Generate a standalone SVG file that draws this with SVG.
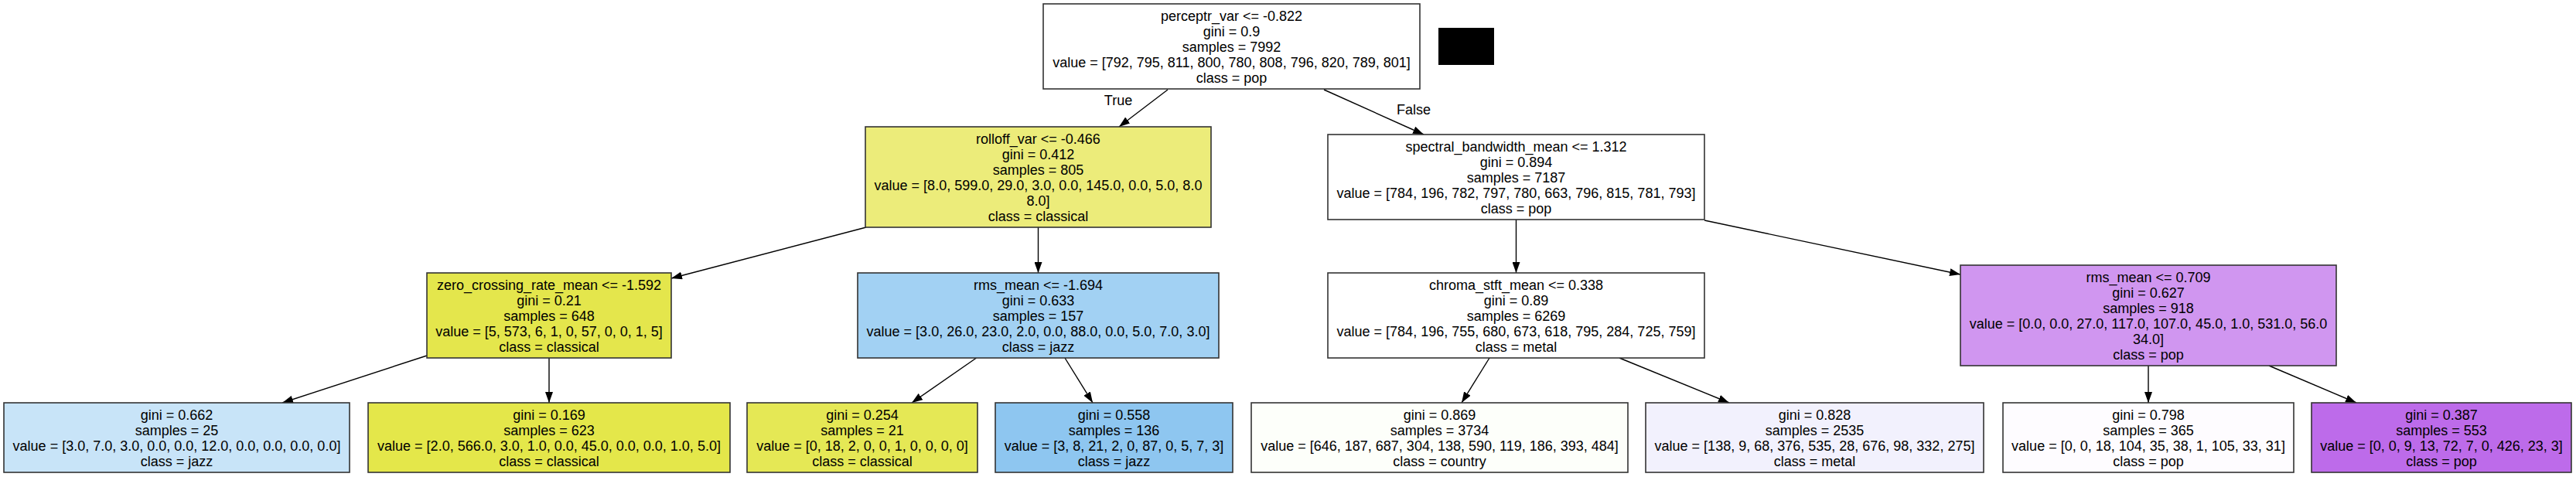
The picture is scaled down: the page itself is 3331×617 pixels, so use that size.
<svg xmlns="http://www.w3.org/2000/svg" width="3331" height="617" viewBox="0 0 3331 617">
<style>
.n rect{stroke:#333;stroke-width:1.6}
text{font-family:"Liberation Sans",Helvetica,Arial,sans-serif;font-size:18px;fill:#000;text-anchor:middle}
.e line{stroke:#000;stroke-width:1.4;marker-end:url(#ah)}
</style>
<defs>
<marker id="ah" viewBox="0 0 14 10" refX="14" refY="5" markerWidth="14" markerHeight="10" markerUnits="userSpaceOnUse" orient="auto">
<path d="M0,0 L14,5 L0,10 Z" fill="#000"/>
</marker>
</defs>
<rect width="3331" height="617" fill="#fff"/>
<rect x="1860" y="36" width="72" height="48" fill="#000"/>
<g class="e" id="edges">
<line x1="1510" y1="116" x2="1447" y2="164"/>
<line x1="1712" y1="116" x2="1841" y2="174"/>
<line x1="1120" y1="294" x2="868" y2="360"/>
<line x1="1342.5" y1="294" x2="1342.5" y2="353"/>
<line x1="1960.5" y1="284" x2="1960.5" y2="353"/>
<line x1="2204" y1="285" x2="2535" y2="355"/>
<line x1="552" y1="460" x2="365" y2="521"/>
<line x1="710" y1="463" x2="710" y2="521"/>
<line x1="1262.5" y1="463" x2="1179" y2="521"/>
<line x1="1377" y1="463" x2="1413" y2="521"/>
<line x1="1926" y1="463" x2="1890" y2="521"/>
<line x1="2094" y1="463" x2="2236" y2="521"/>
<line x1="2778" y1="473" x2="2778" y2="521"/>
<line x1="2934" y1="473" x2="3047" y2="521"/>
</g>
<text x="1446" y="136">True</text>
<text x="1828" y="148">False</text>
<g class="n" id="n0">
<rect x="1349" y="5" width="487" height="110" fill="#ffffff"/>
<text x="1592.5" y="26.5">perceptr_var &lt;= -0.822</text>
<text x="1592.5" y="46.5">gini = 0.9</text>
<text x="1592.5" y="66.5">samples = 7992</text>
<text x="1592.5" y="86.5">value = [792, 795, 811, 800, 780, 808, 796, 820, 789, 801]</text>
<text x="1592.5" y="106.5">class = pop</text>
</g>
<g class="n" id="n1">
<rect x="1119" y="164" width="447" height="130" fill="#ecec7a"/>
<text x="1342.5" y="185.5">rolloff_var &lt;= -0.466</text>
<text x="1342.5" y="205.5">gini = 0.412</text>
<text x="1342.5" y="225.5">samples = 805</text>
<text x="1342.5" y="245.5">value = [8.0, 599.0, 29.0, 3.0, 0.0, 145.0, 0.0, 5.0, 8.0</text>
<text x="1342.5" y="265.5">8.0]</text>
<text x="1342.5" y="285.5">class = classical</text>
</g>
<g class="n" id="n2">
<rect x="1717" y="174" width="487" height="110" fill="#ffffff"/>
<text x="1960.5" y="195.5">spectral_bandwidth_mean &lt;= 1.312</text>
<text x="1960.5" y="215.5">gini = 0.894</text>
<text x="1960.5" y="235.5">samples = 7187</text>
<text x="1960.5" y="255.5">value = [784, 196, 782, 797, 780, 663, 796, 815, 781, 793]</text>
<text x="1960.5" y="275.5">class = pop</text>
</g>
<g class="n" id="n3">
<rect x="552" y="353" width="316" height="110" fill="#e4e64c"/>
<text x="710" y="374.5">zero_crossing_rate_mean &lt;= -1.592</text>
<text x="710" y="394.5">gini = 0.21</text>
<text x="710" y="414.5">samples = 648</text>
<text x="710" y="434.5">value = [5, 573, 6, 1, 0, 57, 0, 0, 1, 5]</text>
<text x="710" y="454.5">class = classical</text>
</g>
<g class="n" id="n4">
<rect x="1109" y="353" width="467" height="110" fill="#a2d1f3"/>
<text x="1342.5" y="374.5">rms_mean &lt;= -1.694</text>
<text x="1342.5" y="394.5">gini = 0.633</text>
<text x="1342.5" y="414.5">samples = 157</text>
<text x="1342.5" y="434.5">value = [3.0, 26.0, 23.0, 2.0, 0.0, 88.0, 0.0, 5.0, 7.0, 3.0]</text>
<text x="1342.5" y="454.5">class = jazz</text>
</g>
<g class="n" id="n5">
<rect x="1717" y="353" width="487" height="110" fill="#ffffff"/>
<text x="1960.5" y="374.5">chroma_stft_mean &lt;= 0.338</text>
<text x="1960.5" y="394.5">gini = 0.89</text>
<text x="1960.5" y="414.5">samples = 6269</text>
<text x="1960.5" y="434.5">value = [784, 196, 755, 680, 673, 618, 795, 284, 725, 759]</text>
<text x="1960.5" y="454.5">class = metal</text>
</g>
<g class="n" id="n6">
<rect x="2535" y="343" width="486" height="130" fill="#d096f0"/>
<text x="2778" y="364.5">rms_mean &lt;= 0.709</text>
<text x="2778" y="384.5">gini = 0.627</text>
<text x="2778" y="404.5">samples = 918</text>
<text x="2778" y="424.5">value = [0.0, 0.0, 27.0, 117.0, 107.0, 45.0, 1.0, 531.0, 56.0</text>
<text x="2778" y="444.5">34.0]</text>
<text x="2778" y="464.5">class = pop</text>
</g>
<g class="n" id="n7">
<rect x="5" y="521" width="447" height="90" fill="#c8e4f8"/>
<text x="228.5" y="542.5">gini = 0.662</text>
<text x="228.5" y="562.5">samples = 25</text>
<text x="228.5" y="582.5">value = [3.0, 7.0, 3.0, 0.0, 0.0, 12.0, 0.0, 0.0, 0.0, 0.0]</text>
<text x="228.5" y="602.5">class = jazz</text>
</g>
<g class="n" id="n8">
<rect x="476" y="521" width="468" height="90" fill="#e4e74a"/>
<text x="710" y="542.5">gini = 0.169</text>
<text x="710" y="562.5">samples = 623</text>
<text x="710" y="582.5">value = [2.0, 566.0, 3.0, 1.0, 0.0, 45.0, 0.0, 0.0, 1.0, 5.0]</text>
<text x="710" y="602.5">class = classical</text>
</g>
<g class="n" id="n9">
<rect x="966" y="521" width="298" height="90" fill="#e5e855"/>
<text x="1115" y="542.5">gini = 0.254</text>
<text x="1115" y="562.5">samples = 21</text>
<text x="1115" y="582.5">value = [0, 18, 2, 0, 0, 1, 0, 0, 0, 0]</text>
<text x="1115" y="602.5">class = classical</text>
</g>
<g class="n" id="n10">
<rect x="1287" y="521" width="307" height="90" fill="#8ec6f0"/>
<text x="1440.5" y="542.5">gini = 0.558</text>
<text x="1440.5" y="562.5">samples = 136</text>
<text x="1440.5" y="582.5">value = [3, 8, 21, 2, 0, 87, 0, 5, 7, 3]</text>
<text x="1440.5" y="602.5">class = jazz</text>
</g>
<g class="n" id="n11">
<rect x="1618" y="521" width="487" height="90" fill="#fdfffa"/>
<text x="1861.5" y="542.5">gini = 0.869</text>
<text x="1861.5" y="562.5">samples = 3734</text>
<text x="1861.5" y="582.5">value = [646, 187, 687, 304, 138, 590, 119, 186, 393, 484]</text>
<text x="1861.5" y="602.5">class = country</text>
</g>
<g class="n" id="n12">
<rect x="2128" y="521" width="437" height="90" fill="#f2f1fd"/>
<text x="2346.5" y="542.5">gini = 0.828</text>
<text x="2346.5" y="562.5">samples = 2535</text>
<text x="2346.5" y="582.5">value = [138, 9, 68, 376, 535, 28, 676, 98, 332, 275]</text>
<text x="2346.5" y="602.5">class = metal</text>
</g>
<g class="n" id="n13">
<rect x="2590" y="521" width="376" height="90" fill="#fefcff"/>
<text x="2778" y="542.5">gini = 0.798</text>
<text x="2778" y="562.5">samples = 365</text>
<text x="2778" y="582.5">value = [0, 0, 18, 104, 35, 38, 1, 105, 33, 31]</text>
<text x="2778" y="602.5">class = pop</text>
</g>
<g class="n" id="n14">
<rect x="2989" y="521" width="336" height="90" fill="#bd6bea"/>
<text x="3157" y="542.5">gini = 0.387</text>
<text x="3157" y="562.5">samples = 553</text>
<text x="3157" y="582.5">value = [0, 0, 9, 13, 72, 7, 0, 426, 23, 3]</text>
<text x="3157" y="602.5">class = pop</text>
</g>
</svg>
